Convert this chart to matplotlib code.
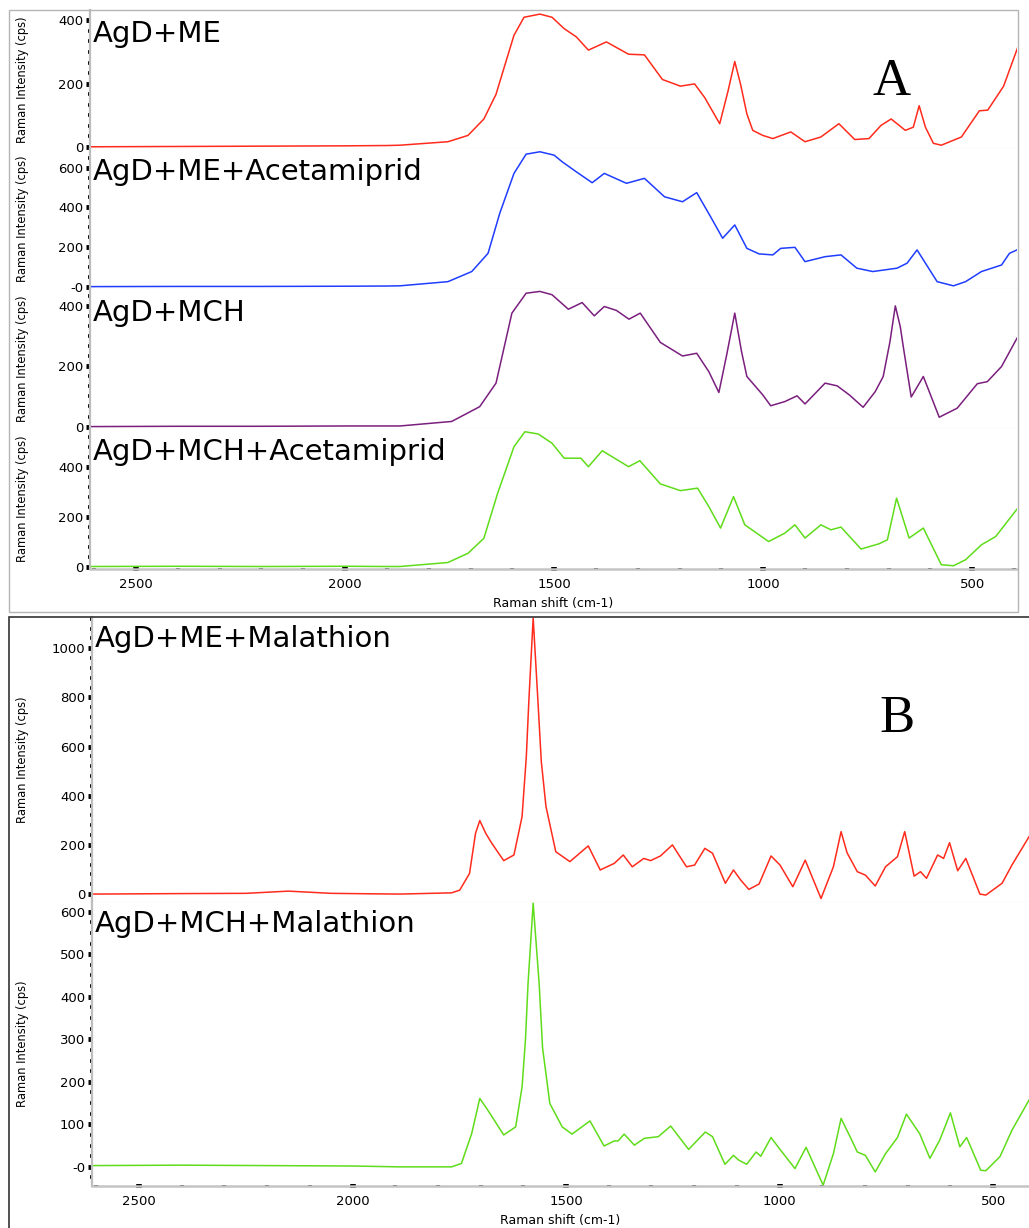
import numpy as np
import matplotlib.pyplot as plt
from matplotlib.ticker import MultipleLocator, AutoMinorLocator
from matplotlib.patches import Rectangle

plt.rcParams['font.family'] = ['DejaVu Sans']

# ---- data (Raman shift in cm-1, intensity in cps) ----
me_shift = [2610, 2400, 2200, 2000, 1900, 1869, 1754, 1706, 1668, 1639, 1620, 1596, 1572, 1534, 1505,
            1476, 1447, 1418, 1375, 1322, 1284, 1241, 1198, 1164, 1140, 1104, 1084, 1068, 1054,
            1039, 1025, 1001, 977, 934, 900, 862, 819, 781, 747, 718, 694, 660, 641, 627, 612,
            593, 574, 526, 483, 463, 425, 392]
me_int = [0, 1, 2, 3, 4, 5, 16, 36, 88, 166, 249, 353, 410, 420, 410,
          374, 348, 306, 332, 293, 291, 213, 192, 199, 156, 73, 177, 270, 197,
          104, 52, 36, 26, 47, 16, 31, 73, 23, 26, 68, 88, 52, 62, 130, 62,
          11, 5, 31, 114, 116, 192, 312]

me_ac_shift = [2610, 2400, 2200, 2000, 1900, 1869, 1754, 1697, 1658, 1630, 1596, 1567, 1534, 1500,
               1481, 1447, 1409, 1380, 1327, 1284, 1236, 1193, 1159, 1126, 1097, 1068,
               1039, 1010, 977, 958, 924, 900, 852, 814, 776, 738, 680, 656, 632, 584,
               545, 516, 478, 430, 411, 393]
me_ac_int = [0, 1, 1, 2, 3, 4, 25, 76, 168, 370, 571, 668, 680, 663,
             630, 579, 524, 571, 521, 546, 453, 428, 474, 353, 244, 311,
             193, 165, 160, 193, 198, 126, 151, 160, 93, 76, 93, 118, 185, 25,
             4, 25, 76, 109, 168, 185]

mch_shift = [2610, 2400, 2200, 2000, 1900, 1869, 1745, 1678, 1639, 1601, 1567, 1534, 1505, 1466,
             1433, 1404, 1380, 1351, 1321, 1294, 1246, 1193, 1159, 1130, 1106, 1087, 1068,
             1052, 1039, 1001, 982, 948, 919, 900, 852, 823, 794, 761, 732, 713, 697, 684, 672,
             665, 646, 617, 579, 536, 488, 464, 430, 393]
mch_int = [0, 1, 1, 2, 2, 2, 17, 66, 144, 376, 442, 448, 437, 389,
           411, 367, 398, 385, 356, 376, 279, 234, 243, 182, 113, 240, 376,
           250, 166, 105, 69, 83, 102, 75, 144, 135, 105, 64, 116, 166, 280, 400, 330,
           265, 98, 166, 31, 61, 142, 149, 199, 293]

mch_ac_shift = [2610, 2400, 2200, 2000, 1900, 1869, 1754, 1706, 1668, 1635, 1596, 1570, 1538, 1505,
                1476, 1436, 1418, 1385, 1322, 1295, 1246, 1198, 1157, 1130, 1102, 1071,
                1044, 987, 948, 924, 900, 862, 838, 814, 766, 723, 703, 681, 651, 617,
                574, 545, 516, 478, 444, 393]
mch_ac_int = [0, 1, 0, 1, 0, 0, 16, 53, 113, 294, 480, 540, 531, 494,
              434, 434, 400, 464, 400, 424, 331, 304, 314, 240, 154, 280,
              167, 100, 134, 167, 114, 167, 147, 158, 70, 91, 107, 274, 114, 154,
              7, 3, 27, 87, 120, 230]

me_mal_shift = [2610, 2400, 2250, 2150, 2050, 1950, 1890, 1768, 1749, 1726, 1712, 1702, 1688, 1674, 1646,
                1622, 1603, 1593, 1587, 1577, 1566, 1558, 1547, 1524, 1491, 1448, 1420, 1387, 1366,
                1345, 1318, 1302, 1279, 1251, 1218, 1199, 1175, 1157, 1127, 1108, 1091,
                1072, 1048, 1020, 999, 969, 940, 903, 874, 856, 842, 818, 799, 776, 752,
                724, 707, 685, 670, 656, 630, 616, 602, 583, 564, 531, 517, 479, 456, 416]
me_mal_int = [0, 2, 3, 12, 3, 1, 0, 5, 16, 84, 247, 299, 247, 207, 136,
              159, 315, 560, 790, 1123, 790, 540, 356, 172, 132, 196, 98, 125, 159,
              111, 145, 136, 155, 200, 111, 118, 186, 166, 44, 98, 57,
              19, 41, 155, 118, 30, 138, -18, 111, 254, 168, 91, 77, 33, 111,
              152, 254, 73, 91, 64, 159, 145, 209, 95, 145, 0, -4, 44, 118, 233]

mch_mal_shift = [2610, 2400, 2200, 2000, 1890, 1768, 1745, 1721, 1702, 1683, 1646, 1618, 1603, 1595, 1589,
                 1577, 1563, 1555, 1538, 1509, 1486, 1444, 1411, 1387, 1378, 1364, 1340, 1317,
                 1284, 1255, 1213, 1174, 1157, 1128, 1108, 1096, 1077, 1055, 1044, 1020,
                 999, 964, 938, 898, 874, 856, 835, 818, 799, 776, 752, 724, 703, 672,
                 648, 625, 600, 578, 562, 529, 517, 484, 456, 416]
mch_mal_int = [3, 4, 3, 2, 0, 0, 8, 78, 161, 133, 75, 94, 188, 300, 431,
               620, 431, 280, 149, 94, 77, 108, 49, 61, 61, 77, 51, 67,
               71, 96, 41, 82, 71, 6, 27, 16, 6, 35, 25, 69,
               41, -4, 46, -43, 31, 114, 71, 35, 27, -12, 31, 69, 124, 78,
               20, 63, 127, 47, 69, -8, -9, 24, 86, 157]

labels_a = ['AgD+ME', 'AgD+ME+Acetamiprid', 'AgD+MCH', 'AgD+MCH+Acetamiprid']
labels_b = ['AgD+ME+Malathion', 'AgD+MCH+Malathion']
colors_a = ['#ff2b1c', '#1f3dff', '#7a1f7e', '#5fdc1a']
colors_b = ['#ff2b1c', '#5fdc1a']

yticks_a = [[0, 200, 400], [0, 200, 400, 600], [0, 200, 400], [0, 200, 400]]
yticklabels_a = [['0', '200', '400'], ['-0', '200', '400', '600'],
                 ['0', '200', '400'], ['0', '200', '400']]
yticks_b = [[0, 200, 400, 600, 800, 1000], [0, 100, 200, 300, 400, 500, 600]]
yticklabels_b = [['0', '200', '400', '600', '800', '1000'],
                 ['-0', '100', '200', '300', '400', '500', '600']]
xticks = [2500, 2000, 1500, 1000, 500]

# ---- layout (pixel boxes in a 1029 x 1228 canvas) ----
W, H = 1029, 1228
fig = plt.figure(figsize=(W / 100, H / 100), dpi=100)


def box(x0, y0, x1, y1):
    return [x0 / W, 1 - y1 / H, (x1 - x0) / W, (y1 - y0) / H]


def style(ax, last, yt, ytl, nminor):
    for s in ['top', 'right']:
        ax.spines[s].set_visible(False)
    ax.spines['left'].set_color('#bdbdbd')
    ax.spines['left'].set_linewidth(1.6)
    if last:
        ax.spines['bottom'].set_color('#c4c4c4')
        ax.spines['bottom'].set_linewidth(1.8)
        ax.set_xticks(xticks)
        ax.xaxis.set_minor_locator(MultipleLocator(100))
        ax.tick_params(axis='x', which='major', direction='inout', length=3.5, width=4,
                       color='black', labelsize=9.5, pad=5)
        ax.tick_params(axis='x', which='minor', direction='inout', length=2, width=3,
                       color='black')
        ax.set_xlabel('Raman shift (cm-1)', fontsize=9, labelpad=4)
    else:
        ax.spines['bottom'].set_color('#fdf3dc')
        ax.spines['bottom'].set_linewidth(1)
        ax.set_xticks([])
    ax.set_yticks(yt, ytl)
    ax.yaxis.set_minor_locator(AutoMinorLocator(nminor))
    ax.tick_params(axis='y', which='major', direction='out', length=3, width=3.5,
                   color='black', labelsize=9.5, pad=2)
    ax.tick_params(axis='y', which='minor', direction='out', length=1.6, width=2.6,
                   color='black')
    ax.set_ylabel('Raman Intensity (cps)', fontsize=8.3)


# Panel A
rows_a = [(10, 149), (149, 289), (289, 429), (429, 569)]
ylims_a = [(-7, 433), (-12, 694), (-8, 456), (-10, 551)]
minors_a = [6, 4, 6, 5]
spectra_a = [(me_shift, me_int), (me_ac_shift, me_ac_int),
             (mch_shift, mch_int), (mch_ac_shift, mch_ac_int)]
label_y_a = [0.772, 0.779, 0.774, 0.779]
for i, (y0, y1) in enumerate(rows_a):
    ax = fig.add_axes(box(90, y0, 1017, y1))
    sx, sy = spectra_a[i]
    ax.plot(sx, sy, color=colors_a[i], lw=1.1)
    ax.set_xlim(2610, 393)
    ax.set_ylim(*ylims_a[i])
    style(ax, i == 3, yticks_a[i], yticklabels_a[i], minors_a[i])
    ax.yaxis.set_label_coords(-0.066, 0.5)
    ax.text(0.003, label_y_a[i], labels_a[i], transform=ax.transAxes, fontsize=21,
            va='baseline', ha='left')

# Panel B
rows_b = [(617, 901.7), (901.7, 1186)]
ylims_b = [(-31, 1127), (-45, 623.5)]
minors_b = [5, 4]
spectra_b = [(me_mal_shift, me_mal_int), (mch_mal_shift, mch_mal_int)]
label_y_b = [0.894, 0.892]
for i, (y0, y1) in enumerate(rows_b):
    ax = fig.add_axes(box(92, y0, 1029, y1))
    sx, sy = spectra_b[i]
    ax.plot(sx, sy, color=colors_b[i], lw=1.1)
    ax.set_xlim(2610, 416)
    ax.set_ylim(*ylims_b[i])
    style(ax, i == 1, yticks_b[i], yticklabels_b[i], minors_b[i])
    ax.yaxis.set_label_coords(-0.067, 0.5)
    ax.text(0.003, label_y_b[i], labels_b[i], transform=ax.transAxes, fontsize=21,
            va='baseline', ha='left')

# panel frames and letters
fig.patches.append(Rectangle((9 / W, 1 - 612 / H), (1018 - 9) / W, (612 - 10) / H,
                             transform=fig.transFigure, fill=False, ec='#b5b5b5', lw=1))
fig.patches.append(Rectangle((9 / W, -0.01), 1.0, 1 - 617 / H + 0.01,
                             transform=fig.transFigure, fill=False, ec='#333333', lw=1.2))
fig.text(892 / W, 1 - 95 / H, 'A', fontsize=38, family='Liberation Serif',
         ha='center', va='baseline')
fig.text(897 / W, 1 - 732 / H, 'B', fontsize=38, family='Liberation Serif',
         ha='center', va='baseline')

fig.savefig('out.png', dpi=100)
